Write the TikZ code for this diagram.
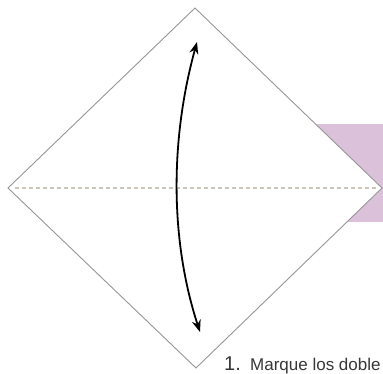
\documentclass[tikz,border=0pt]{standalone}
\usepackage{fontspec}
\setmainfont{Liberation Sans}
\usepackage{xcolor}
\usepackage{tikz}
\usetikzlibrary{arrows.meta,positioning}
\definecolor{paperedge}{RGB}{150,150,150}
\definecolor{flap}{RGB}{219,193,217}
\definecolor{crease}{RGB}{205,198,184}
\definecolor{caption}{RGB}{55,55,55}
\tikzstyle{sheet}=[draw=paperedge, line width=0.9pt, fill=white]
\tikzstyle{valley}=[draw=crease, line width=1.1pt, dash pattern=on 4pt off 3pt]
\tikzstyle{swing}=[{Stealth[length=12pt,width=9pt]}-{Stealth[length=12pt,width=9pt]}, line width=1.8pt]

\begin{document}
\begin{tikzpicture}[x=1pt,y=-1pt,
  step label/.style={font=\fontsize{20}{22}\selectfont, text=caption, inner sep=0pt, anchor=base west},
  step text/.style={font=\fontsize{17}{19}\selectfont, text=caption, inner sep=0pt, anchor=base west}]
\useasboundingbox (0,0) rectangle (383,373);

% flap behind the square
\fill[flap] (300,124) rectangle (390,222);

% the square, turned
\coordinate (T) at (195,8);
\coordinate (R) at (382,188);
\coordinate (B) at (196,368);
\coordinate (L) at (8,188);
\draw[sheet] (T) -- (R) -- (B) -- (L) -- cycle;

% crease
\coordinate (CL) at (15,188);
\coordinate (CR) at (376,188);
\draw[valley] (CL) -- (CR);

% fold and unfold
\coordinate (A1) at (197,42);
\coordinate (A2) at (200,332);
\draw[swing] (A1) .. controls (170,140) and (170,240) .. (A2);

% caption
\node[step label] (num) at (224,370) {1.};
\node[step text] (txt) at (250,370) {Marque los doble};
\end{tikzpicture}
\end{document}
